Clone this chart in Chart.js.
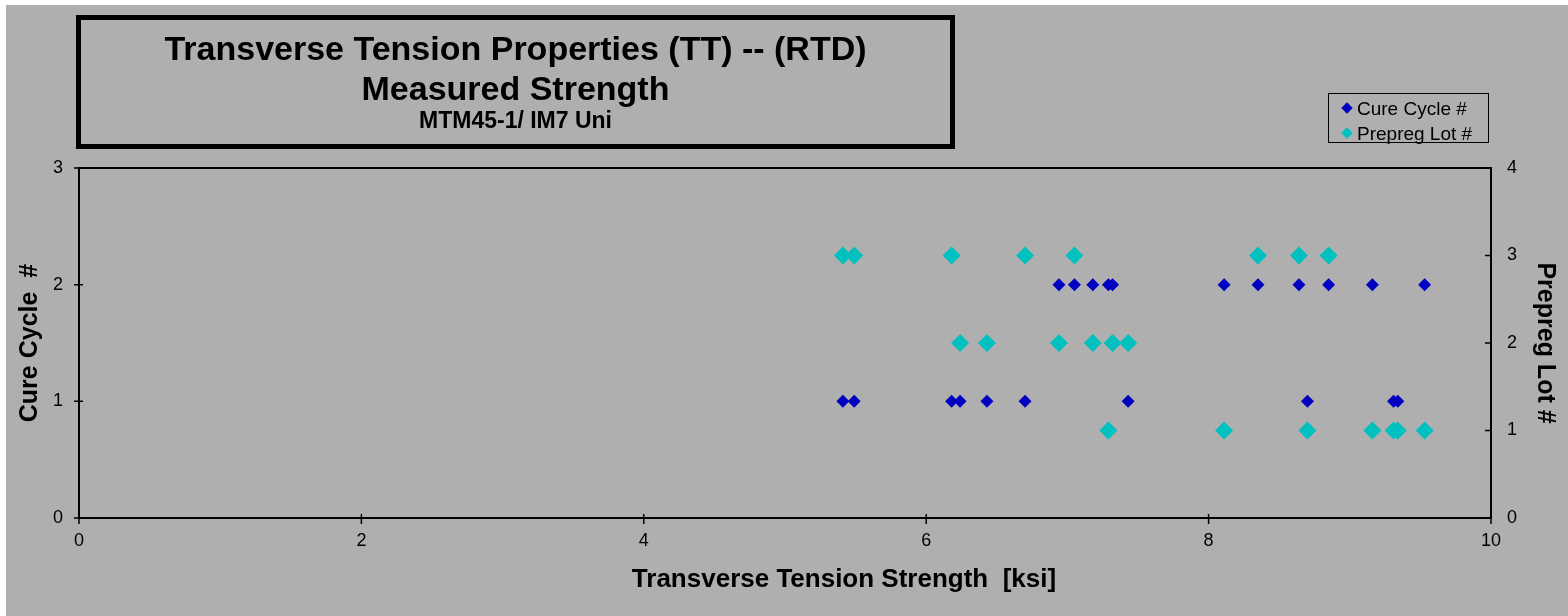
<!DOCTYPE html>
<html lang="en">
<head>
    <meta charset="UTF-8">
    <title>Transverse Tension Properties (TT) -- (RTD)</title>
    <script src="https://cdn.jsdelivr.net/npm/chart.js"></script>
    <style>
        html, body { margin: 0; padding: 0; background: #fff; }
        body { width: 1568px; height: 616px; position: relative; overflow: hidden; font-family: "Liberation Sans", Arial, sans-serif; }
        .bg { position: absolute; left: 6px; top: 5px; right: 0; bottom: 0; background: #afafaf; }
        #chart { position: absolute; left: 0; top: 0; }
        .title-box { position: absolute; left: 76px; top: 15px; width: 879px; height: 134px; box-sizing: border-box; border: 5px solid #000; }
        .t { position: absolute; left: 0; width: 100%; text-align: center; font-weight: bold; color: #000; white-space: nowrap; }
        .t1 { top: 11px; font-size: 34px; line-height: 34px; }
        .t2 { top: 51px; font-size: 34px; line-height: 34px; }
        .t3 { top: 89px; font-size: 23px; line-height: 23px; }
        .legend { position: absolute; left: 1328px; top: 93px; width: 161px; height: 50px; box-sizing: border-box; border: 1px solid #000; }
        .legend div { position: absolute; left: 28px; font-size: 19px; line-height: 19px; white-space: nowrap; color: #000; }
        .legend span { position: absolute; left: -14px; top: 5px; width: 8px; height: 8px; transform: rotate(45deg); }
        .xtitle { position: absolute; left: 844px; top: 565px; transform: translateX(-50%); font-size: 26px; line-height: 26px; font-weight: bold; white-space: nowrap; }
    </style>
</head>
<body>
    <div class="bg"></div>
    <canvas id="chart" width="1568" height="616"></canvas>

    <div class="title-box">
        <div class="t t1">Transverse Tension Properties (TT) -- (RTD)</div>
        <div class="t t2">Measured Strength</div>
        <div class="t t3">MTM45-1/ IM7 Uni</div>
    </div>
    <div class="legend" id="legend"></div>
    <div class="xtitle">Transverse Tension Strength&nbsp; [ksi]</div>

    <script>
        // strength of each specimen [ksi], with its cure cycle and prepreg lot
        const strength   = [5.41, 5.49, 6.18, 6.24, 6.43, 6.70, 7.43, 8.70, 9.31, 9.34,
                            6.94, 7.05, 7.18, 7.29, 7.32, 8.11, 8.35, 8.64, 8.85, 9.16, 9.53];
        const cureCycle  = [1, 1, 1, 1, 1, 1, 1, 1, 1, 1,
                            2, 2, 2, 2, 2, 2, 2, 2, 2, 2, 2];
        const prepregLot = [3, 3, 3, 2, 2, 3, 2, 1, 1, 1,
                            2, 3, 2, 1, 2, 1, 3, 3, 3, 1, 1];

        const seriesNames = ['Cure Cycle #', 'Prepreg Lot #'];
        const xTicks = [0, 2, 4, 6, 8, 10];

        const toPoints = ys => strength.map((x, i) => ({ x: x, y: ys[i] }));

        // tick marks + top border (Excel style: crossing ticks)
        const axisTicks = {
            id: 'axisTicks',
            afterDraw(chart) {
                const ctx = chart.ctx;
                const a = chart.chartArea;
                const sx = chart.scales.x, sy = chart.scales.y, sy2 = chart.scales.y2;
                ctx.save();
                ctx.strokeStyle = '#000';
                ctx.lineWidth = 2;
                ctx.beginPath();
                ctx.moveTo(a.left - 1, a.top);
                ctx.lineTo(a.right + 1, a.top);
                ctx.stroke();

                ctx.lineWidth = 1.5;
                ctx.beginPath();
                sx.ticks.forEach(t => {
                    const p = sx.getPixelForValue(t.value);
                    ctx.moveTo(p, a.bottom - 4);
                    ctx.lineTo(p, a.bottom + 6);
                });
                sy.ticks.forEach(t => {
                    const p = sy.getPixelForValue(t.value);
                    ctx.moveTo(a.left - 5, p);
                    ctx.lineTo(a.left + 4, p);
                });
                sy2.ticks.forEach(t => {
                    const p = sy2.getPixelForValue(t.value);
                    ctx.moveTo(a.right - 6, p);
                    ctx.lineTo(a.right + 1, p);
                });
                ctx.stroke();
                ctx.restore();
            }
        };

        const tickFont = { family: '"Liberation Sans", Arial', size: 18 };
        const titleFont = { family: '"Liberation Sans", Arial', size: 25, weight: 'bold' };

        const chart = new Chart(document.getElementById('chart'), {
            type: 'scatter',
            data: {
                datasets: [{
                    label: seriesNames[0],
                    data: toPoints(cureCycle),
                    yAxisID: 'y',
                    pointStyle: 'rectRot',
                    pointRadius: 6.5,
                    borderWidth: 0,
                    backgroundColor: '#0000c0'
                }, {
                    label: seriesNames[1],
                    data: toPoints(prepregLot),
                    yAxisID: 'y2',
                    pointStyle: 'rectRot',
                    pointRadius: 9,
                    borderWidth: 0,
                    backgroundColor: '#00c0c0'
                }]
            },
            options: {
                responsive: false,
                animation: false,
                devicePixelRatio: 1,
                layout: { padding: { top: 168, left: 0, right: 0, bottom: 0 } },
                plugins: { legend: { display: false }, tooltip: { enabled: false } },
                scales: {
                    x: {
                        type: 'linear', min: 0, max: 10,
                        afterBuildTicks: s => { s.ticks = xTicks.map(v => ({ value: v })); },
                        afterFit: s => { s.height = 98; },
                        grid: { display: false, drawTicks: false },
                        border: { display: true, color: '#000', width: 2 },
                        ticks: { font: tickFont, color: '#000', padding: 12, maxRotation: 0 }
                    },
                    y: {
                        position: 'left', min: 0, max: 3,
                        afterFit: s => { s.width = 79; },
                        grid: { display: false, drawTicks: false },
                        border: { display: true, color: '#000', width: 2 },
                        ticks: { stepSize: 1, font: tickFont, color: '#000', padding: 16 },
                        title: { display: true, text: 'Cure Cycle  #', font: titleFont, color: '#000', padding: { top: 15, bottom: 0 } }
                    },
                    y2: {
                        position: 'right', min: 0, max: 4,
                        afterFit: s => { s.width = 77; },
                        grid: { display: false, drawTicks: false },
                        border: { display: true, color: '#000', width: 2 },
                        ticks: { stepSize: 1, font: tickFont, color: '#000', padding: 16 },
                        title: { display: true, text: 'Prepreg Lot #', font: titleFont, color: '#000', padding: { top: 8, bottom: 0 } }
                    }
                }
            },
            plugins: [axisTicks]
        });

        // legend in a box, built from the datasets
        const legend = document.getElementById('legend');
        chart.data.datasets.forEach((ds, i) => {
            const item = document.createElement('div');
            item.style.top = (i === 0 ? 5 : 30) + 'px';
            item.innerHTML = '<span style="background:' + ds.backgroundColor + '"></span>' + ds.label;
            legend.appendChild(item);
        });
    </script>
</body>
</html>
